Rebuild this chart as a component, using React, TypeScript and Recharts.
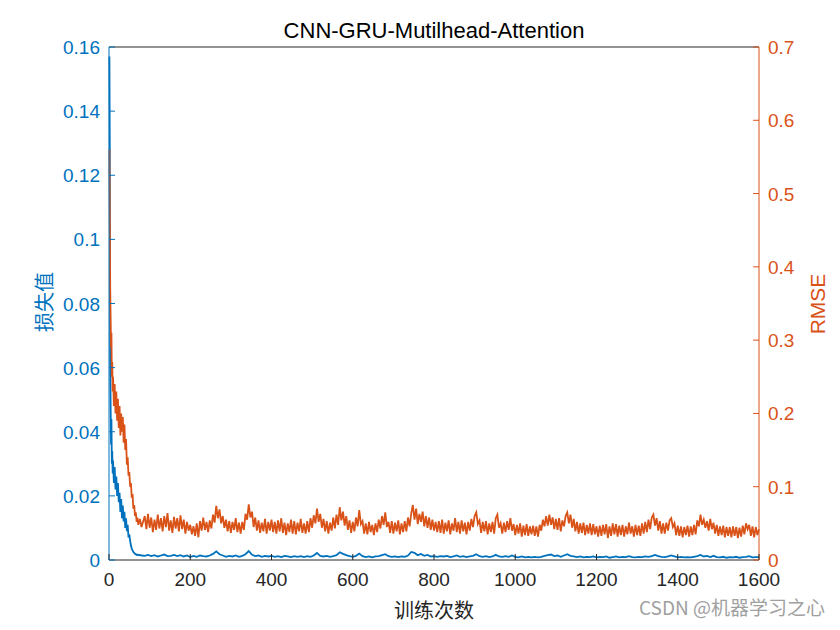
import { LineChart, Line, XAxis, YAxis } from "recharts";

const BLUE = "#0072BD";
const ORANGE = "#D95319";

// first iterations, sampled densely where the curves fall fast
const earlyIter = [
  1, 2, 3, 4, 5, 6, 7, 8, 9, 10, 12, 14, 16, 18, 20, 22, 24, 26, 28, 30, 32,
  34, 36, 38, 40, 42, 44, 46, 48, 50, 52, 54, 56, 58, 60, 62, 64, 66, 68, 70,
  72, 76, 80,
];
const earlyLoss = [
  0.157, 0.125, 0.062, 0.048, 0.036, 0.044, 0.03, 0.034, 0.027, 0.031, 0.024,
  0.029, 0.022, 0.026, 0.02, 0.024, 0.018, 0.021, 0.015, 0.019, 0.013, 0.017,
  0.012, 0.015, 0.01, 0.013, 0.009, 0.011, 0.007, 0.008, 0.006, 0.0045,
  0.0035, 0.003, 0.0025, 0.0022, 0.0019, 0.0018, 0.0016, 0.0017, 0.0015,
  0.0016, 0.0014,
];
const earlyRmse = [
  0.56, 0.46, 0.37, 0.33, 0.29, 0.31, 0.25, 0.27, 0.23, 0.25, 0.21, 0.24, 0.2,
  0.23, 0.19, 0.22, 0.18, 0.21, 0.17, 0.2, 0.175, 0.195, 0.16, 0.185, 0.15,
  0.165, 0.13, 0.14, 0.115, 0.12, 0.1, 0.105, 0.085, 0.09, 0.07, 0.075, 0.06,
  0.065, 0.052, 0.058, 0.048, 0.056, 0.045,
];

// loss from iteration 88 to 1600, one reading every 8 iterations
const lossStart = 88;
const lossStep = 8;
const mainLoss = [
  0.0013, 0.0016, 0.0012, 0.0015, 0.0011, 0.0014, 0.0017, 0.0012, 0.0013, 0.0016,
  0.0012, 0.0015, 0.0011, 0.0014, 0.0009, 0.0013, 0.001, 0.0014, 0.0012, 0.0011,
  0.0014, 0.0019, 0.0027, 0.0018, 0.0014, 0.001, 0.0013, 0.0011, 0.0014, 0.001,
  0.0013, 0.0018, 0.0028, 0.0016, 0.0012, 0.0014, 0.001, 0.0013, 0.0011, 0.0013,
  0.001, 0.0012, 0.0009, 0.0013, 0.0011, 0.0009, 0.0012, 0.001, 0.0012, 0.0009,
  0.0012, 0.001, 0.0014, 0.0022, 0.0013, 0.0011, 0.0013, 0.001, 0.0012, 0.0015,
  0.0024, 0.0019, 0.0015, 0.0012, 0.001, 0.0013, 0.002, 0.0012, 0.0009, 0.0011,
  0.0008, 0.0011, 0.0012, 0.0015, 0.0018, 0.0012, 0.001, 0.0011, 0.0009, 0.0011,
  0.001, 0.0014, 0.0025, 0.0022, 0.0015, 0.0019, 0.0013, 0.0016, 0.0011, 0.0012,
  0.001, 0.0012, 0.0011, 0.0013, 0.0009, 0.0011, 0.0014, 0.001, 0.0012, 0.0009,
  0.0011, 0.0013, 0.0018, 0.0012, 0.001, 0.0012, 0.0009, 0.0011, 0.0016, 0.0011,
  0.001, 0.0012, 0.001, 0.0014, 0.001, 0.0008, 0.0011, 0.0008, 0.001, 0.0008,
  0.001, 0.0008, 0.001, 0.0013, 0.0015, 0.0017, 0.0012, 0.0014, 0.001, 0.0014,
  0.0018, 0.0013, 0.0011, 0.0009, 0.0011, 0.0008, 0.001, 0.0009, 0.0011, 0.0008,
  0.001, 0.0009, 0.0011, 0.0007, 0.0009, 0.0011, 0.0008, 0.001, 0.0009, 0.0012,
  0.0009, 0.0008, 0.001, 0.0009, 0.0011, 0.001, 0.0012, 0.0016, 0.0012, 0.001,
  0.0009, 0.0011, 0.0014, 0.0011, 0.0008, 0.001, 0.0008, 0.0009, 0.0008, 0.001,
  0.0012, 0.0016, 0.0011, 0.0013, 0.0009, 0.0013, 0.0009, 0.0008, 0.001, 0.0007,
  0.0009, 0.0008, 0.001, 0.0007, 0.0009, 0.001, 0.0012, 0.0008, 0.0009, 0.0009,
];

// RMSE from iteration 88 to 1600, one reading every 4 iterations
const rmseStart = 88;
const rmseStep = 4;
const mainRmse = [
  0.06, 0.042, 0.063, 0.044, 0.058, 0.038, 0.055, 0.041, 0.062, 0.043, 0.057, 0.039, 0.06, 0.045, 0.064, 0.04, 0.054, 0.037, 0.059, 0.043,
  0.057, 0.039, 0.061, 0.042, 0.055, 0.036, 0.052, 0.04, 0.048, 0.035, 0.046, 0.033, 0.05, 0.031, 0.053, 0.04, 0.058, 0.041, 0.052, 0.038,
  0.054, 0.043, 0.062, 0.051, 0.074, 0.057, 0.069, 0.05, 0.06, 0.044, 0.055, 0.039, 0.053, 0.037, 0.052, 0.041, 0.057, 0.038, 0.051, 0.036,
  0.052, 0.041, 0.063, 0.055, 0.076, 0.058, 0.066, 0.045, 0.058, 0.04, 0.054, 0.037, 0.051, 0.039, 0.056, 0.036, 0.052, 0.04, 0.055, 0.038,
  0.052, 0.036, 0.054, 0.039, 0.057, 0.037, 0.051, 0.034, 0.05, 0.038, 0.055, 0.036, 0.053, 0.035, 0.051, 0.039, 0.056, 0.037, 0.05, 0.036,
  0.053, 0.038, 0.057, 0.044, 0.061, 0.05, 0.07, 0.052, 0.063, 0.044, 0.056, 0.039, 0.053, 0.036, 0.051, 0.04, 0.058, 0.043, 0.062, 0.048,
  0.072, 0.054, 0.066, 0.047, 0.06, 0.041, 0.054, 0.037, 0.052, 0.039, 0.058, 0.046, 0.068, 0.049, 0.053, 0.036, 0.05, 0.035, 0.052, 0.038,
  0.048, 0.034, 0.05, 0.038, 0.055, 0.043, 0.06, 0.048, 0.065, 0.045, 0.052, 0.037, 0.053, 0.036, 0.051, 0.039, 0.054, 0.035, 0.05, 0.038,
  0.053, 0.039, 0.058, 0.046, 0.064, 0.075, 0.055, 0.07, 0.049, 0.063, 0.052, 0.066, 0.046, 0.06, 0.044, 0.058, 0.041, 0.055, 0.04, 0.052,
  0.038, 0.053, 0.037, 0.055, 0.036, 0.051, 0.039, 0.054, 0.035, 0.05, 0.04, 0.057, 0.038, 0.052, 0.036, 0.054, 0.039, 0.051, 0.035, 0.052,
  0.04, 0.056, 0.045, 0.06, 0.065, 0.049, 0.054, 0.037, 0.052, 0.039, 0.053, 0.035, 0.05, 0.038, 0.052, 0.036, 0.057, 0.062, 0.044, 0.05,
  0.036, 0.051, 0.038, 0.053, 0.041, 0.057, 0.04, 0.049, 0.034, 0.048, 0.036, 0.05, 0.032, 0.047, 0.034, 0.049, 0.033, 0.046, 0.035, 0.047,
  0.033, 0.046, 0.032, 0.048, 0.04, 0.055, 0.046, 0.06, 0.047, 0.062, 0.048, 0.058, 0.042, 0.056, 0.041, 0.057, 0.039, 0.054, 0.046, 0.06,
  0.065, 0.05, 0.062, 0.044, 0.056, 0.039, 0.052, 0.036, 0.05, 0.037, 0.051, 0.034, 0.048, 0.036, 0.05, 0.034, 0.049, 0.035, 0.046, 0.032,
  0.047, 0.033, 0.048, 0.035, 0.049, 0.03, 0.046, 0.033, 0.05, 0.035, 0.049, 0.032, 0.047, 0.034, 0.048, 0.032, 0.046, 0.035, 0.051, 0.036,
  0.046, 0.032, 0.048, 0.034, 0.047, 0.033, 0.05, 0.036, 0.052, 0.038, 0.055, 0.042, 0.058, 0.062, 0.047, 0.057, 0.04, 0.053, 0.036, 0.05,
  0.036, 0.051, 0.04, 0.054, 0.057, 0.045, 0.05, 0.034, 0.047, 0.033, 0.046, 0.031, 0.045, 0.034, 0.047, 0.032, 0.046, 0.034, 0.048, 0.035,
  0.054, 0.046, 0.062, 0.048, 0.055, 0.044, 0.053, 0.04, 0.056, 0.042, 0.051, 0.036, 0.048, 0.033, 0.046, 0.034, 0.047, 0.031, 0.045, 0.033,
  0.045, 0.031, 0.046, 0.033, 0.045, 0.03, 0.044, 0.032, 0.047, 0.035, 0.05, 0.042, 0.048, 0.033, 0.046, 0.031, 0.045, 0.034, 0.042,
];

const xTicks = [0, 200, 400, 600, 800, 1000, 1200, 1400, 1600];
const lossTicks = [0, 0.02, 0.04, 0.06, 0.08, 0.1, 0.12, 0.14, 0.16];
const rmseTicks = [0, 0.1, 0.2, 0.3, 0.4, 0.5, 0.6, 0.7];

const lossData = [
  ...earlyIter.map((it, i) => ({ iter: it, loss: earlyLoss[i] })),
  ...mainLoss.map((v, i) => ({ iter: lossStart + i * lossStep, loss: v })),
];
const rmseData = [
  ...earlyIter.map((it, i) => ({ iter: it, rmse: earlyRmse[i] })),
  ...mainRmse.map((v, i) => ({ iter: rmseStart + i * rmseStep, rmse: v })),
];

const FONT = "'Liberation Sans', Arial, sans-serif";
const CJK = "'Noto Sans CJK SC', sans-serif";
const TICK = 6;
const TICK_FS = 19;

const BottomTick = (props: any) => {
  const { x, y, payload } = props;
  return (
    <g>
      <line x1={x} x2={x} y1={y} y2={y - TICK} stroke="#262626" />
      <text x={x} y={y + 26} textAnchor="middle" fill="#262626" fontSize={TICK_FS} fontFamily={FONT}>
        {payload.value}
      </text>
    </g>
  );
};

const TopTick = (props: any) => {
  const { x, y } = props;
  return <line x1={x} x2={x} y1={y} y2={y + TICK} stroke="#262626" />;
};

const LeftTick = (props: any) => {
  const { x, y, payload } = props;
  return (
    <g>
      <line x1={x} x2={x + TICK} y1={y} y2={y} stroke={BLUE} />
      <text x={x - 9} y={y + 7} textAnchor="end" fill={BLUE} fontSize={TICK_FS} fontFamily={FONT}>
        {String(payload.value)}
      </text>
    </g>
  );
};

const RightTick = (props: any) => {
  const { x, y, payload } = props;
  return (
    <g>
      <line x1={x} x2={x - TICK} y1={y} y2={y} stroke={ORANGE} />
      <text x={x + 9} y={y + 7} textAnchor="start" fill={ORANGE} fontSize={TICK_FS} fontFamily={FONT}>
        {String(payload.value)}
      </text>
    </g>
  );
};

export default function App() {
  return (
    <div style={{ position: "absolute", left: 0, top: 0, width: 840, height: 630, background: "#fff" }}>
      <LineChart width={840} height={630} margin={{ top: 37, right: 31, bottom: 40, left: 59 }}>
        <XAxis
          dataKey="iter"
          type="number"
          domain={[0, 1600]}
          ticks={xTicks}
          interval={0}
          height={30}
          tickSize={0}
          tickMargin={0}
          tick={<BottomTick />}
          axisLine={{ stroke: "#262626" }}
          tickLine={false}
        />
        <XAxis
          xAxisId="top"
          orientation="top"
          dataKey="iter"
          type="number"
          domain={[0, 1600]}
          ticks={xTicks}
          interval={0}
          height={10}
          tickSize={0}
          tickMargin={0}
          tick={<TopTick />}
          axisLine={{ stroke: "#262626" }}
          tickLine={false}
        />
        <YAxis
          yAxisId="left"
          orientation="left"
          type="number"
          domain={[0, 0.16]}
          ticks={lossTicks}
          interval={0}
          width={50}
          tickSize={0}
          tickMargin={0}
          tick={<LeftTick />}
          axisLine={{ stroke: BLUE }}
          tickLine={false}
        />
        <YAxis
          yAxisId="right"
          orientation="right"
          type="number"
          domain={[0, 0.7]}
          ticks={rmseTicks}
          interval={0}
          width={50}
          tickSize={0}
          tickMargin={0}
          tick={<RightTick />}
          axisLine={{ stroke: ORANGE }}
          tickLine={false}
        />
        <Line
          yAxisId="left"
          data={lossData}
          dataKey="loss"
          type="linear"
          stroke={BLUE}
          strokeWidth={1.8}
          dot={false}
          isAnimationActive={false}
        />
        <Line
          yAxisId="right"
          data={rmseData}
          dataKey="rmse"
          type="linear"
          stroke={ORANGE}
          strokeWidth={1.8}
          dot={false}
          isAnimationActive={false}
        />
      </LineChart>
      <svg
        width={840}
        height={630}
        style={{ position: "absolute", left: 0, top: 0, pointerEvents: "none" }}
      >
        <text x={434} y={38} textAnchor="middle" fontSize={22} fill="#000" fontFamily={FONT}>
          CNN-GRU-Mutilhead-Attention
        </text>
        <text x={434} y={618} textAnchor="middle" fontSize={20} fill="#262626" fontFamily={CJK}>
          训练次数
        </text>
        <text
          x={52}
          y={302}
          textAnchor="middle"
          fontSize={20}
          fill={BLUE}
          fontFamily={CJK}
          transform="rotate(-90 52 302)"
        >
          损失值
        </text>
        <text
          x={825}
          y={304}
          textAnchor="middle"
          fontSize={21}
          fill={ORANGE}
          fontFamily={FONT}
          transform="rotate(-90 825 304)"
        >
          RMSE
        </text>
        <text x={825} y={615} textAnchor="end" fontSize={19} fill="#a0a0a0" fontFamily={CJK}>
          CSDN @机器学习之心
        </text>
      </svg>
    </div>
  );
}
